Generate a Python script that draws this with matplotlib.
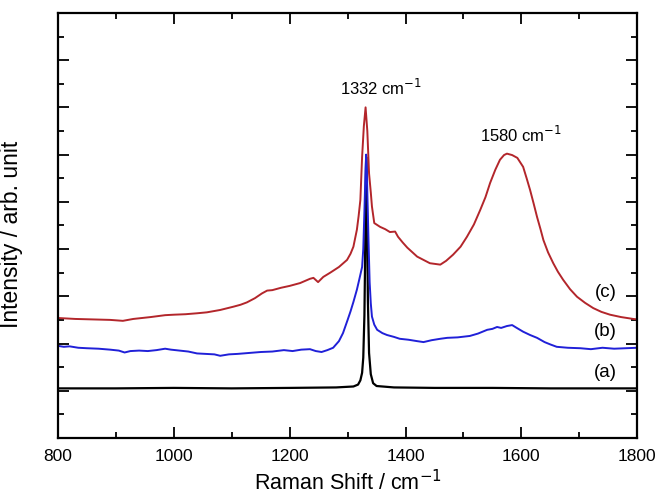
import matplotlib.pyplot as plt
from matplotlib.ticker import MultipleLocator, NullFormatter

plt.rcParams['font.family'] = ['Liberation Sans', 'DejaVu Sans']

# (a) black spectrum
wn_a = [800, 900, 1000, 1100, 1200, 1280, 1310, 1318, 1322, 1325, 1327, 1329, 1330, 1331,
        1332, 1333, 1334, 1335, 1337, 1340, 1344, 1350, 1380, 1450, 1550, 1650, 1750, 1800]
int_a = [1.05, 1.05, 1.06, 1.05, 1.06, 1.07, 1.09, 1.13, 1.22, 1.38, 1.70, 2.60, 3.60, 5.00,
         5.95, 5.30, 4.10, 2.90, 1.80, 1.35, 1.16, 1.10, 1.07, 1.06, 1.06, 1.05, 1.05, 1.05]

# (b) blue spectrum
wn_b = [800, 810, 820, 835, 850, 870, 890, 905, 915, 925, 940, 955, 970, 985, 995, 1010,
        1025, 1040, 1055, 1070, 1080, 1095, 1110, 1130, 1150, 1170, 1190, 1205, 1220, 1235,
        1245, 1255, 1265, 1275, 1285, 1292, 1300, 1305, 1310, 1316, 1320, 1325, 1327, 1329,
        1331, 1332, 1333, 1334, 1336, 1338, 1340, 1342, 1346, 1351, 1360, 1368, 1380, 1390,
        1405, 1420, 1431, 1445, 1460, 1472, 1490, 1511, 1525, 1541, 1550, 1558, 1565, 1575,
        1584, 1592, 1603, 1615, 1627, 1640, 1650, 1661, 1680, 1702, 1720, 1740, 1760, 1780, 1800]
int_b = [1.95, 1.93, 1.94, 1.91, 1.90, 1.89, 1.87, 1.85, 1.81, 1.84, 1.85, 1.84, 1.86, 1.89,
         1.87, 1.85, 1.83, 1.79, 1.78, 1.77, 1.74, 1.77, 1.78, 1.80, 1.82, 1.83, 1.86, 1.84,
         1.87, 1.88, 1.84, 1.82, 1.86, 1.91, 2.05, 2.22, 2.50, 2.68, 2.88, 3.14, 3.35, 3.62,
         4.00, 4.80, 5.70, 6.00, 5.80, 5.20, 4.20, 3.30, 2.85, 2.57, 2.40, 2.29, 2.22, 2.18,
         2.14, 2.10, 2.08, 2.05, 2.03, 2.07, 2.10, 2.12, 2.13, 2.16, 2.21, 2.29, 2.31, 2.35,
         2.33, 2.37, 2.39, 2.33, 2.25, 2.18, 2.12, 2.03, 1.98, 1.93, 1.91, 1.90, 1.88, 1.91,
         1.89, 1.90, 1.91]

# (c) red spectrum
wn_c = [800, 830, 860, 890, 912, 930, 960, 985, 1000, 1020, 1040, 1057, 1080, 1103, 1115,
        1126, 1140, 1152, 1161, 1170, 1185, 1200, 1218, 1235, 1241, 1249, 1258, 1270, 1285,
        1299, 1305, 1310, 1316, 1319, 1322, 1325, 1328, 1331, 1334, 1337, 1340, 1342, 1346,
        1356, 1365, 1373, 1382, 1387, 1395, 1403, 1420, 1442, 1460, 1470, 1482, 1495, 1506,
        1518, 1529, 1538, 1546, 1555, 1563, 1570, 1575, 1584, 1593, 1603, 1609, 1615, 1621,
        1627, 1633, 1638, 1646, 1655, 1663, 1672, 1684, 1696, 1710, 1724, 1738, 1753, 1772,
        1793, 1800]
int_c = [2.54, 2.52, 2.51, 2.50, 2.48, 2.52, 2.56, 2.60, 2.61, 2.62, 2.64, 2.66, 2.71, 2.78,
         2.82, 2.87, 2.96, 3.06, 3.12, 3.13, 3.18, 3.22, 3.28, 3.37, 3.39, 3.30, 3.41, 3.50,
         3.62, 3.77, 3.90, 4.05, 4.41, 4.70, 5.04, 5.95, 6.60, 7.00, 6.50, 5.60, 5.20, 4.90,
         4.55, 4.47, 4.42, 4.36, 4.37, 4.26, 4.14, 4.03, 3.84, 3.70, 3.67, 3.75, 3.88, 4.05,
         4.26, 4.52, 4.83, 5.10, 5.40, 5.68, 5.89, 5.99, 6.02, 5.99, 5.93, 5.74, 5.50, 5.25,
         4.97, 4.68, 4.42, 4.19, 3.93, 3.70, 3.52, 3.35, 3.15, 2.99, 2.86, 2.75, 2.67, 2.61,
         2.56, 2.52, 2.51]

fig = plt.figure(figsize=(6.59, 4.96), dpi=100)
ax = fig.add_axes([0.088, 0.117, 0.879, 0.857])

ax.plot(wn_a, int_a, color='black', lw=1.6)
ax.plot(wn_b, int_b, color='#2020d8', lw=1.4)
ax.plot(wn_c, int_c, color='#b3262b', lw=1.4)

ax.text(1358, 7.42, '1332 cm$^{-1}$', ha='center', va='center', fontsize=12)
ax.text(1600, 6.42, '1580 cm$^{-1}$', ha='center', va='center', fontsize=12)
ax.text(1745, 3.09, '(c)', ha='center', va='center', fontsize=13.5)
ax.text(1745, 2.25, '(b)', ha='center', va='center', fontsize=13.5)
ax.text(1745, 1.38, '(a)', ha='center', va='center', fontsize=13.5)

ax.set_xlim(800, 1800)
ax.set_ylim(0, 9)
ax.xaxis.set_major_locator(MultipleLocator(200))
ax.xaxis.set_minor_locator(MultipleLocator(100))
ax.yaxis.set_major_locator(MultipleLocator(1))
ax.yaxis.set_minor_locator(MultipleLocator(0.5))
ax.yaxis.set_major_formatter(NullFormatter())
ax.tick_params(which='both', direction='in', top=True, right=True, width=1.3)
ax.tick_params(which='major', length=8, labelsize=12.5, pad=8)
ax.tick_params(which='minor', length=4.5)
for s in ax.spines.values():
    s.set_linewidth(1.6)

ax.set_xlabel('Raman Shift / cm$^{-1}$', fontsize=15.5, labelpad=4)
ax.set_ylabel('Intensity / arb. unit', fontsize=16.5)
ax.yaxis.set_label_coords(-0.06, 0.48)

fig.savefig('out.png', dpi=100)
